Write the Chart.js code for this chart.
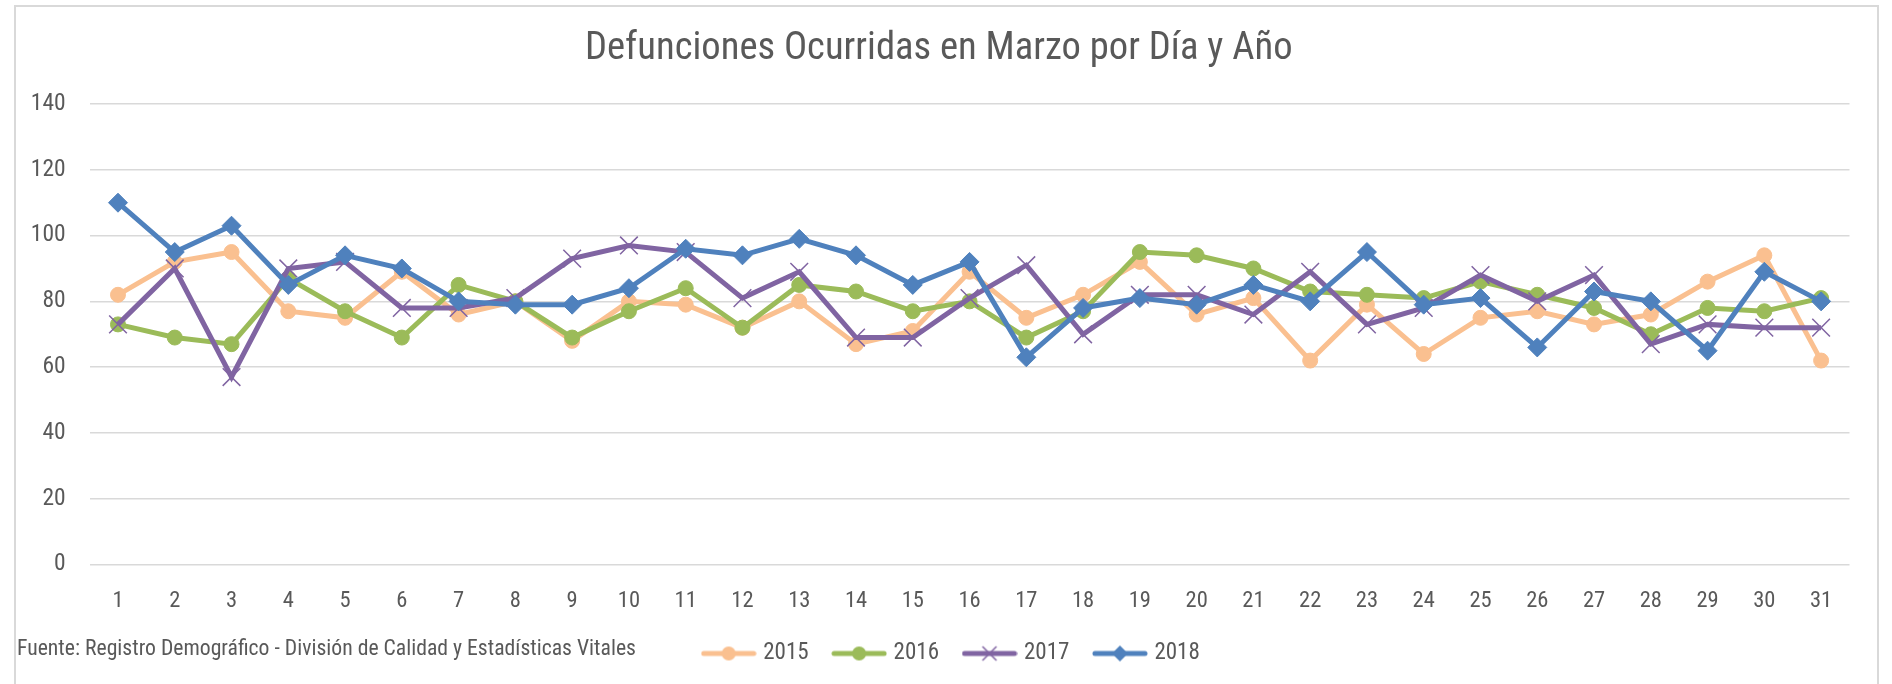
<!DOCTYPE html>
<html lang="es">
<head>
<meta charset="utf-8">
<title>Defunciones Ocurridas en Marzo por Día y Año</title>
<script src="https://cdn.jsdelivr.net/npm/chart.js@4.4.1/dist/chart.umd.min.js"></script>
<style>
  html, body { margin: 0; padding: 0; background: #fff; }
  #marco {
    position: absolute; left: 14px; top: 5px;
    width: 1861px; height: 690px;
    border: 2px solid #D9D9D9;
  }
  #fuente {
    position: absolute; left: 17px; top: 636px;
    font: 21.7px 'Roboto Condensed', 'DejaVu Sans Condensed', sans-serif;
    line-height: 24px; color: #595959; white-space: nowrap;
  }
</style>
</head>
<body>
<div id="marco"><canvas id="grafico"></canvas></div>
<div id="fuente">Fuente: Registro Demográfico - División de Calidad y Estadísticas Vitales</div>
<script>
// Datos: defunciones por día de marzo
const dias = Array.from({ length: 31 }, (_, i) => String(i + 1));
const anios = ['2015', '2016', '2017', '2018'];
const def2015 = [82, 92, 95, 77, 75, 89, 76, 80, 68, 80, 79, 72, 80, 67, 71, 89, 75, 82, 92, 76, 81, 62, 79, 64, 75, 77, 73, 76, 86, 94, 62];
const def2016 = [73, 69, 67, 87, 77, 69, 85, 80, 69, 77, 84, 72, 85, 83, 77, 80, 69, 77, 95, 94, 90, 83, 82, 81, 86, 82, 78, 70, 78, 77, 81];
const def2017 = [73, 90, 57, 90, 92, 78, 78, 81, 93, 97, 95, 81, 89, 69, 69, 81, 91, 70, 82, 82, 76, 89, 73, 78, 88, 80, 88, 67, 73, 72, 72];
const def2018 = [110, 95, 103, 85, 94, 90, 80, 79, 79, 84, 96, 94, 99, 94, 85, 92, 63, 78, 81, 79, 85, 80, 95, 79, 81, 66, 83, 80, 65, 89, 80];
const ticksY = [0, 20, 40, 60, 80, 100, 120, 140];

const COLORES = ['#FAC090', '#9BBB59', '#8064A2', '#4F81BD'];
const MARCAS = ['circle', 'circle', 'crossRot', 'rectRot'];
const FUENTE = "'Roboto Condensed', 'DejaVu Sans Condensed', sans-serif";
const GRIS_TEXTO = '#595959';

/** Icono de leyenda: línea con su marcador */
function iconoLeyenda(color, marca) {
  const cv = document.createElement('canvas');
  cv.width = 56; cv.height = 22;
  const ctx = cv.getContext('2d');
  ctx.strokeStyle = color; ctx.fillStyle = color;
  ctx.lineWidth = 5; ctx.lineCap = 'round';
  ctx.beginPath(); ctx.moveTo(3, 11); ctx.lineTo(53, 11); ctx.stroke();
  ctx.beginPath();
  if (marca === 'circle') {
    ctx.arc(28, 11, 7, 0, Math.PI * 2); ctx.fill();
  } else if (marca === 'rectRot') {
    ctx.moveTo(28, 3); ctx.lineTo(36, 11); ctx.lineTo(28, 19); ctx.lineTo(20, 11); ctx.closePath(); ctx.fill();
  } else {
    ctx.lineWidth = 1.5; ctx.lineCap = 'butt';
    ctx.moveTo(21, 4); ctx.lineTo(35, 18); ctx.moveTo(35, 4); ctx.lineTo(21, 18); ctx.stroke();
  }
  return cv;
}

// Desplaza la leyenda para dejarla donde está en el original
const ajusteLeyenda = {
  id: 'ajusteLeyenda',
  afterLayout(chart) {
    const lg = chart.legend;
    if (!lg) return;
    lg.left += 14;
    lg.right += 14;
  },
};

const series = [def2015, def2016, def2017, def2018];
const iconos = COLORES.map((c, i) => iconoLeyenda(c, MARCAS[i]));

const datasets = series.map((valores, i) => ({
  label: anios[i],
  data: valores,
  borderColor: COLORES[i],
  backgroundColor: COLORES[i],
  borderWidth: 5,
  pointStyle: MARCAS[i],
  pointRadius: MARCAS[i] === 'crossRot' ? 12.5 : (MARCAS[i] === 'rectRot' ? 9.5 : 7.5),
  pointBorderWidth: MARCAS[i] === 'crossRot' ? 1.5 : 1,
  pointBackgroundColor: COLORES[i],
  pointBorderColor: COLORES[i],
  tension: 0,
  order: series.length - i, // 2018 queda encima
}));

new Chart(document.getElementById('grafico'), {
  type: 'line',
  data: { labels: dias, datasets },
  options: {
    responsive: true,
    maintainAspectRatio: false,
    animation: false,
    layout: { padding: { left: 12, right: 27.5, top: 0, bottom: 22 } },
    plugins: {
      title: {
        display: true,
        text: 'Defunciones Ocurridas en Marzo por Día y Año',
        color: GRIS_TEXTO,
        font: { family: FUENTE, size: 38.6, weight: 'normal', lineHeight: 1.2 },
        padding: { top: 19, bottom: 31.7 },
      },
      legend: {
        display: true,
        position: 'bottom',
        labels: {
          color: GRIS_TEXTO,
          font: { family: FUENTE, size: 23 },
          usePointStyle: true,
          pointStyleWidth: 46,
          padding: 27.5,
          generateLabels(chart) {
            return chart.data.datasets.map((ds, i) => ({
              text: ds.label,
              fillStyle: ds.borderColor,
              strokeStyle: ds.borderColor,
              fontColor: GRIS_TEXTO,
              lineWidth: 0,
              pointStyle: iconos[i],
              hidden: false,
              datasetIndex: i,
            }));
          },
        },
      },
      tooltip: { enabled: false },
    },
    scales: {
      x: {
        offset: true,
        grid: { display: false },
        border: { display: false },
        ticks: { color: GRIS_TEXTO, font: { family: FUENTE, size: 22.5 }, padding: 15, maxRotation: 0, autoSkip: false },
        afterFit(scale) { scale.height = 50; },
      },
      y: {
        min: ticksY[0],
        max: ticksY[ticksY.length - 1],
        grid: { color: '#D9D9D9', lineWidth: 1.5, drawTicks: false },
        border: { display: false },
        ticks: { stepSize: ticksY[1] - ticksY[0], color: GRIS_TEXTO, font: { family: FUENTE, size: 23.5 }, padding: 24 },
        afterFit(scale) { scale.width = 61.6; },
      },
    },
  },
  plugins: [ajusteLeyenda],
});
</script>
</body>
</html>
